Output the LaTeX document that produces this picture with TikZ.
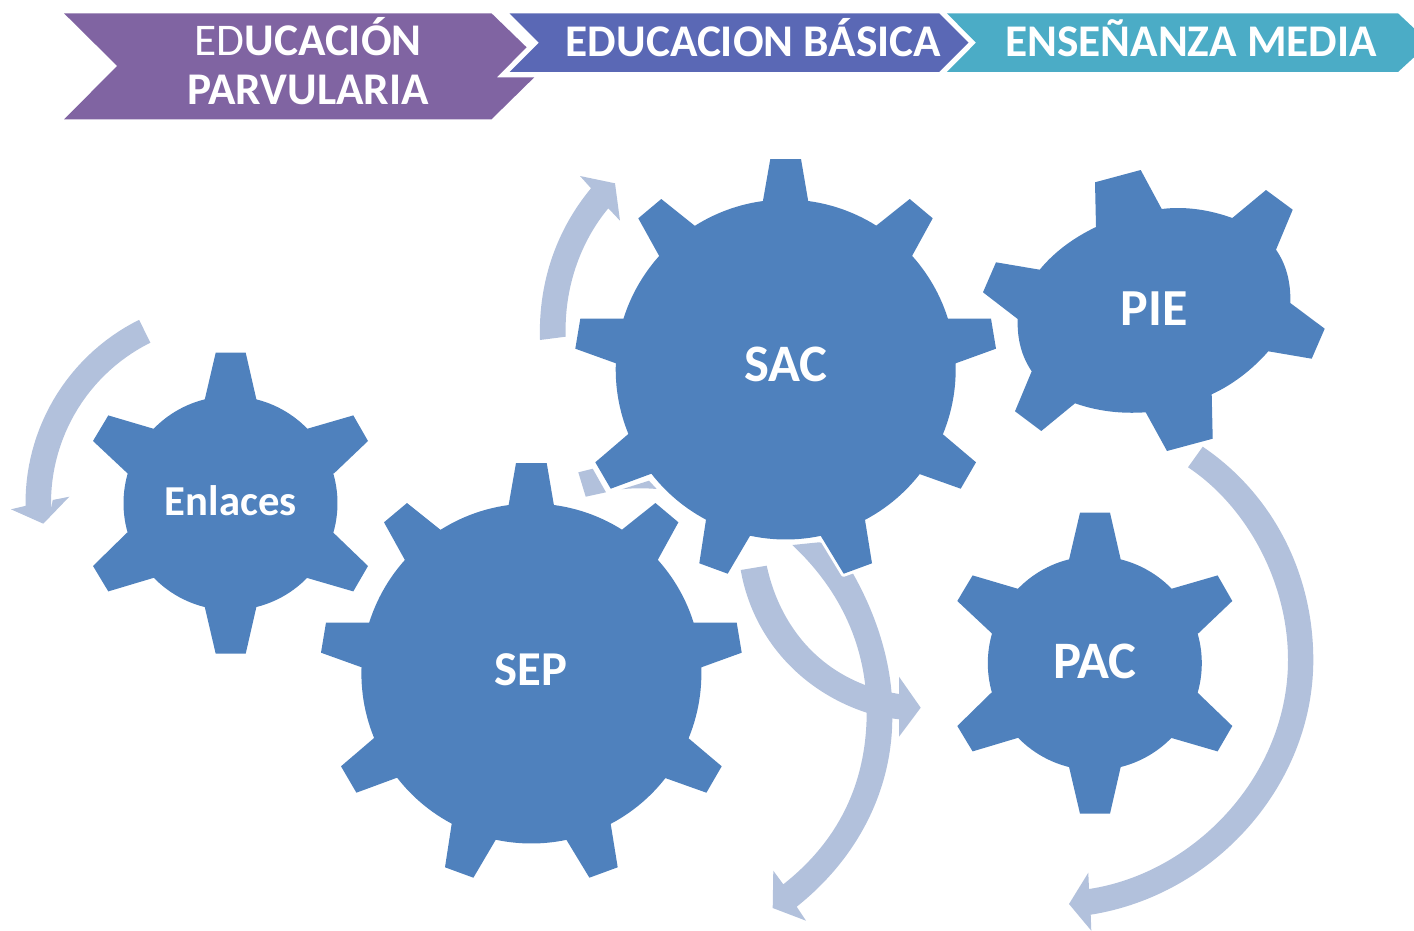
\documentclass[tikz,border=0pt]{standalone}
\usepackage{fontspec}
\setmainfont{Carlito}
\definecolor{gearblue}{HTML}{4F81BD}
\definecolor{arrowtint}{HTML}{B2C1DC}
\definecolor{bannerpurple}{HTML}{8064A2}
\definecolor{bannerblue}{HTML}{5A68B5}
\definecolor{bannerteal}{HTML}{4BACC6}
\tikzset{
  gearshape/.style={fill=gearblue,line join=round},
  gearhalo/.style={preaction={draw=white,line width=4.5pt,line join=round}},
  turnarrow/.style={fill=arrowtint},
  geartext/.style={text=white,font=\bfseries\fontsize{#1}{#1}\selectfont,anchor=base,inner sep=0pt},
  bannertext/.style={text=white,font=\bfseries\fontsize{#1}{#1}\selectfont,anchor=base,inner sep=0pt}
}
\newcommand{\garc}[3]{-- plot[domain=#2:#3,samples=14] ({#1*cos(\x)},{#1*sin(\x)})}
\newcommand{\ninegear}{
  (-15.4,-210.5) -- (15.3,-210.5) -- (22.6,-167.8) \garc{170}{-82.3}{-57.8}
  -- (124,-170.5) -- (147,-151.2) -- (126.3,-113.5) \garc{170}{-41.9}{-17.4}
  -- (205.3,-50.8) -- (210.3,-20.8) -- (170,-6.2) \garc{170}{-2.1}{22.4}
  -- (190.3,92.8) -- (175,119.2) -- (134.6,104.8) \garc{170}{37.9}{62.2}
  -- (86.3,193.8) -- (58,204.2) -- (35.3,166.8) \garc{170}{78.05}{102.1}
  -- (-58,204.2) -- (-86.4,193.8) -- (-79.7,150.2) \garc{170}{117.9}{142.2}
  -- (-175,119.2) -- (-190.4,92.8) -- (-157.7,64.8) \garc{170}{157.7}{182.1}
  -- (-210.4,-20.8) -- (-205.4,-50.8) -- (-161.7,-50.8) \garc{170}{197.4}{221.9}
  -- (-147.4,-151.2) -- (-124.4,-170.5) -- (-90.7,-143.5) \garc{170}{237.7}{262.3} -- cycle
}
\newcommand{\sixgear}{
  (-14.8,-150.5) -- (15.2,-150.5) -- (25.8,-104.2) \garc{107}{-76.1}{-44.1}
  -- (122.8,-87.8) -- (137.5,-62.2) -- (103.5,-29.8) \garc{107}{-16.1}{16}
  -- (137.5,62.8) -- (122.8,88.2) -- (76.8,74.8) \garc{107}{44.1}{76}
  -- (15.2,150.5) -- (-14.8,150.5) -- (-25.8,103.5) \garc{107}{104}{135.8}
  -- (-122.2,88.2) -- (-137.5,62.8) -- (-103.5,29.5) \garc{107}{164}{196.1}
  -- (-137.5,-62.2) -- (-122.2,-87.8) -- (-77.2,-74.5) \garc{107}{224.1}{256.1} -- cycle
}
\begin{document}
\begin{tikzpicture}[x=0.75pt,y=-0.75pt]
\useasboundingbox (0,0) rectangle (1414,931);
% banners
\fill[bannerpurple] (64,13.3) -- (491.5,13.3) -- (526.6,47.3) -- (496.8,77.3) -- (534.3,77.3) -- (491.5,119.3) -- (64,119.3) -- (117.2,66) -- cycle;
\fill[bannerblue] (509.5,13.3) -- (939.2,13.3) -- (968.5,42.7) -- (939.2,72) -- (509.5,72) -- (538.8,42.7) -- cycle;
\fill[bannerteal] (946.9,13.3) -- (1398,13.3) -- (1414,28.3) -- (1414,57.3) -- (1398,72) -- (946.9,72) -- (976,42.7) -- cycle;
\node[bannertext=34] (parv1) at (308,55.5) {\mdseries ED\bfseries UCACIÓN};
\node[bannertext=34] (parv2) at (308,104.5) {PARVULARIA};
\node[bannertext=34] (basica) at (753.5,57) {EDUCACION BÁSICA};
\node[bannertext=34] (media) at (1191,57) {ENSEÑANZA MEDIA};
% arrows
\begin{scope}[shift={(230,503)}]
\fill[turnarrow] plot[domain=243.6:179.2,samples=30] ({204.5*cos(\x)},{204.5*sin(\x)})
  -- (-219,6.3) -- (-186.7,20.7) -- (-160.7,-6.3) -- (-177.3,-3)
  -- plot[domain=178:243.6,samples=30] ({179*cos(\x)},{179*sin(\x)}) -- cycle;
\end{scope}
\fill[turnarrow] (540,340) .. controls (538,280) and (558,228) .. (591,188.3)
  -- (580,176) -- (615,183.3) -- (620,220.7) -- (608.3,208.3)
  .. controls (582,240) and (564,285) .. (565.7,336.7) -- cycle;
\fill[turnarrow] (819,542.3) -- (835,545) .. controls (872,598) and (894,660) .. (892.3,718.3)
  .. controls (892,790) and (858,858) .. (796.7,906.7)
  -- (806,920.7) -- (772.7,908) -- (773.3,870.7) -- (783.3,884.3)
  .. controls (837,842) and (866.7,785) .. (866.7,711.7)
  .. controls (866.7,640) and (835,585) .. (792.3,545) -- cycle;
\fill[turnarrow] (740.7,570) .. controls (753,640) and (803,692) .. (866.7,712.7)
  .. controls (877,716) and (888,718) .. (899,719.3)
  -- (899,736.7) -- (920.7,707.7) -- (899,676.7) -- (899,694) -- (891.7,692.7) -- (865,685)
  .. controls (810,664) and (778,618) .. (766.7,565.7) -- cycle;
\fill[turnarrow] (1202.7,446.7) .. controls (1270,492) and (1313.3,570) .. (1313.3,660)
  .. controls (1313.3,785) and (1215,895) .. (1090.7,914.7)
  -- (1091.3,930.7) -- (1069,904) -- (1088.3,872.7) -- (1089,889)
  .. controls (1195,873) and (1288,775) .. (1288,660)
  .. controls (1288,580) and (1245,505) .. (1188,467.3) -- cycle;
\fill[turnarrow] (578.3,472.3) -- (592.7,468.7) -- (606,492.3) -- (585.7,496.7) -- cycle;
\fill[turnarrow] (621.7,489.3) -- (649,480.7) -- (656.7,489) .. controls (645,488) and (632,488) .. (621.7,489.3) -- cycle;
% gears
\begin{scope}[shift={(785.7,369.5)}]
\path[gearshape,gearhalo] \ninegear;
\end{scope}
\begin{scope}[shift={(531.4,673.5)}]
\path[gearshape] \ninegear;
\end{scope}
\begin{scope}[shift={(230.5,503.2)}]
\path[gearshape] \sixgear;
\end{scope}
\begin{scope}[shift={(1094.8,663.2)}]
\path[gearshape] \sixgear;
\end{scope}
\path[gearshape] (1095,182.3) -- (1140.7,170) -- (1161.7,209) .. controls (1186,206) and (1210,210) .. (1232.3,218)
  -- (1266,190) -- (1292.7,209.7) -- (1276,249.7) .. controls (1286,264) and (1291,282) .. (1290.3,303)
  -- (1324.7,328.7) -- (1311.7,358.7) -- (1268.3,351.3) .. controls (1252,370) and (1232,385) .. (1211.7,394.3)
  -- (1212.7,438.7) -- (1167,451) -- (1145.7,412.3) .. controls (1120,414) and (1097,411) .. (1075,403.3)
  -- (1041.3,431) -- (1015,411.3) -- (1031.7,371.3) .. controls (1022,357) and (1017,340) .. (1017.7,319)
  -- (983,292.3) -- (996,262.3) -- (1039.7,269.7) .. controls (1055,251) and (1075,237) .. (1096,227) -- cycle;
% labels
\node[geartext=39.5] (sac) at (786,381.7) {SAC};
\node[geartext=39] (pie) at (1154,325) {PIE};
\node[geartext=36.5] (sep) at (531,685.5) {SEP};
\node[geartext=32] (enlaces) at (230.7,515.5) {Enlaces};
\node[geartext=39.5] (pac) at (1095,678.7) {PAC};
\end{tikzpicture}
\end{document}
